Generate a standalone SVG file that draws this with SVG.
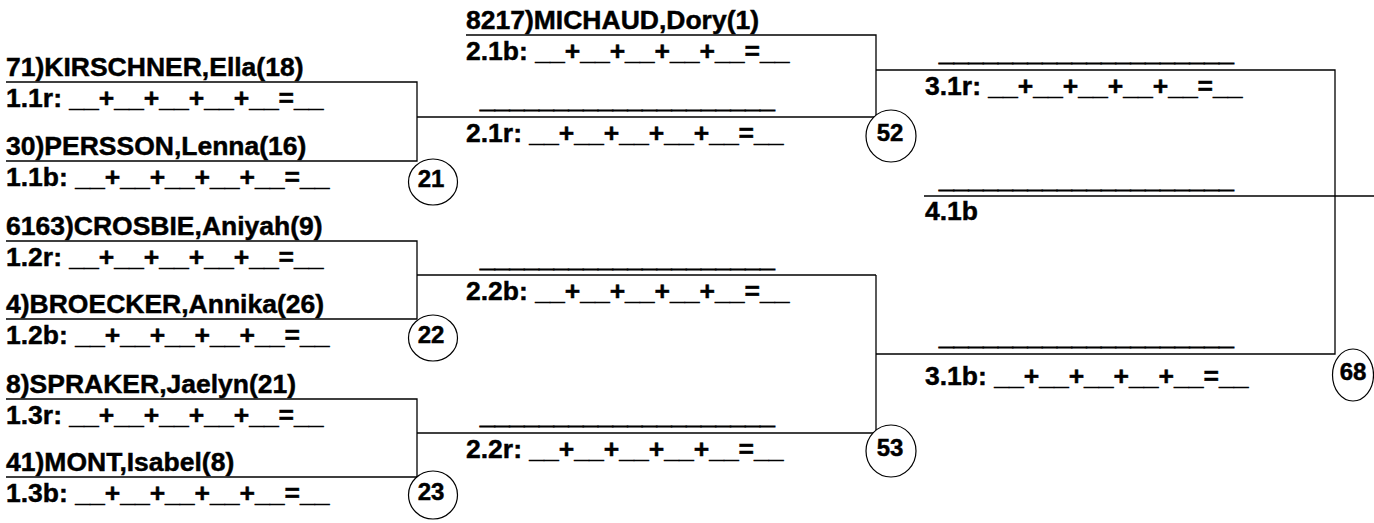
<svg xmlns="http://www.w3.org/2000/svg" width="1374" height="523" viewBox="0 0 1374 523">
<style>
text{font-family:"Liberation Sans",Arial,sans-serif;font-weight:bold;font-size:26.5px;fill:#000;stroke:#000;stroke-width:0.45}
.n{font-size:24px;text-anchor:middle}
.u{stroke-width:1}
line,path{stroke:#000;stroke-width:1.3;fill:none}
ellipse{stroke:#000;stroke-width:1.2;fill:#fff}
</style>
<rect width="1374" height="523" fill="#fff"/>
<g id="connectors">
<path d="M6 82H417V161H6"/>
<path d="M417 117H876"/>
<path d="M6 241H417V319H6"/>
<path d="M417 275H876"/>
<path d="M6 399H417V477H6"/>
<path d="M417 433H876"/>
<path d="M466 35H876V117"/>
<path d="M876 70H1335V354H876"/>
<path d="M876 275V433"/>
<path d="M924 196H1374"/>
</g>
<g id="slot-1-1r"><text x="6" y="76">71)KIRSCHNER,Ella(18)</text><text x="6" y="107">1.1r: __+__+__+__+__=__</text></g>
<g id="slot-1-1b"><text x="6" y="155">30)PERSSON,Lenna(16)</text><text x="6" y="186">1.1b: __+__+__+__+__=__</text></g>
<g id="slot-1-2r"><text x="6" y="235">6163)CROSBIE,Aniyah(9)</text><text x="6" y="266">1.2r: __+__+__+__+__=__</text></g>
<g id="slot-1-2b"><text x="6" y="313">4)BROECKER,Annika(26)</text><text x="6" y="344">1.2b: __+__+__+__+__=__</text></g>
<g id="slot-1-3r"><text x="6" y="393">8)SPRAKER,Jaelyn(21)</text><text x="6" y="424">1.3r: __+__+__+__+__=__</text></g>
<g id="slot-1-3b"><text x="6" y="471">41)MONT,Isabel(8)</text><text x="6" y="502">1.3b: __+__+__+__+__=__</text></g>
<g id="slot-2-1b"><text x="466" y="29">8217)MICHAUD,Dory(1)</text><text x="466" y="60">2.1b: __+__+__+__+__=__</text></g>
<g id="slot-2-1r"><text class="u" x="480" y="108">____________________</text><text x="466" y="142">2.1r: __+__+__+__+__=__</text></g>
<g id="slot-2-2b"><text class="u" x="480" y="267">____________________</text><text x="466" y="300">2.2b: __+__+__+__+__=__</text></g>
<g id="slot-2-2r"><text class="u" x="480" y="424">____________________</text><text x="466" y="458">2.2r: __+__+__+__+__=__</text></g>
<g id="slot-3-1r"><text class="u" x="939" y="61">____________________</text><text x="925" y="95">3.1r: __+__+__+__+__=__</text></g>
<g id="slot-4-1b"><text class="u" x="939" y="188">____________________</text><text x="925" y="220">4.1b</text></g>
<g id="slot-3-1b"><text class="u" x="939" y="345">____________________</text><text x="925" y="385">3.1b: __+__+__+__+__=__</text></g>
<g id="match-21"><ellipse cx="433" cy="182" rx="24.5" ry="23"/><text class="n" x="431" y="187">21</text></g>
<g id="match-22"><ellipse cx="433" cy="338" rx="24.5" ry="23"/><text class="n" x="431" y="343">22</text></g>
<g id="match-23"><ellipse cx="433" cy="495" rx="24.5" ry="24"/><text class="n" x="431" y="500">23</text></g>
<g id="match-52"><ellipse cx="891" cy="136" rx="25" ry="26"/><text class="n" x="890" y="141">52</text></g>
<g id="match-53"><ellipse cx="891" cy="451" rx="25" ry="26"/><text class="n" x="890" y="456">53</text></g>
<g id="match-68"><ellipse cx="1353" cy="375" rx="20.5" ry="26"/><text class="n" x="1353" y="380">68</text></g>
</svg>
